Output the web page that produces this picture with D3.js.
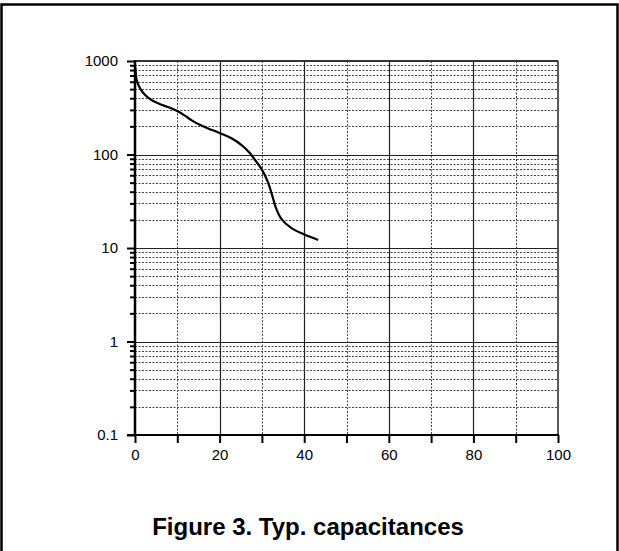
<!DOCTYPE html>
<html><head><meta charset="utf-8">
<script src="https://cdn.jsdelivr.net/npm/d3@7"></script>
<style>
html,body{margin:0;padding:0;background:#fff;}
svg{display:block;}
text{font-family:"Liberation Sans",Arial,sans-serif;}
</style></head>
<body>
<svg id="chart" width="619" height="551"></svg>
<script>
// Data
const voltage = [0.1,0.4,1.2,2.4,3.9,6.3,8.7,10.2,11.8,13.4,15.3,17.3,20.1,22.8,25.2,27.2,28.4,30.0,31.4,32.4,33.3,34.6,37.0,39.8,43.3];
const capacitance = [850,627,510,433,383,340,310,288,260,232,208,190,169,149,126,103,87,69,51,37,27,20.5,16.3,14.1,12.2];
const xTicks = [0,20,40,60,80,100];
const xMinorTicks = [10,30,50,70,90];
const yTicks = [0.1,1,10,100,1000];
const yTickLabels = ["0.1","1","10","100","1000"];
const title = "Figure 3. Typ. capacitances";

const svg = d3.select("#chart");
const L = 135, R = 558, T = 61, B = 435;
const x = d3.scaleLinear().domain([0,100]).range([L,R]);
const y = d3.scaleLog().domain([0.1,1000]).range([B,T]);

// outer frame
svg.append("path").attr("d", `M1.5,560 V4.5 H617.5 V560`)
  .attr("fill","none").attr("stroke","#000").attr("stroke-width",2.5);

// minor y values
const yMinor = [];
for (let d = 0.1; d < 1000; d *= 10) for (let k = 2; k <= 9; k++) yMinor.push(+(d*k).toPrecision(3));

const g = svg.append("g");
g.selectAll(".hm").data(yMinor).join("line")
  .attr("x1",L).attr("x2",R).attr("y1",d=>Math.round(y(d))+0.5).attr("y2",d=>Math.round(y(d))+0.5)
  .attr("stroke","#444").attr("stroke-width",1).attr("stroke-dasharray","2,1.5");
g.selectAll(".vm").data(xMinorTicks).join("line")
  .attr("y1",T).attr("y2",B).attr("x1",d=>Math.round(x(d))+0.5).attr("x2",d=>Math.round(x(d))+0.5)
  .attr("stroke","#444").attr("stroke-width",1).attr("stroke-dasharray","2,1.5");
g.selectAll(".hM").data(yTicks.slice(1,4)).join("line")
  .attr("x1",L).attr("x2",R).attr("y1",d=>Math.round(y(d))+0.5).attr("y2",d=>Math.round(y(d))+0.5)
  .attr("stroke","#222").attr("stroke-width",1.2);
g.selectAll(".vM").data(xTicks.slice(1,5)).join("line")
  .attr("y1",T).attr("y2",B).attr("x1",d=>Math.round(x(d))+0.5).attr("x2",d=>Math.round(x(d))+0.5)
  .attr("stroke","#222").attr("stroke-width",1.2);
g.append("line").attr("x1",L).attr("x2",R).attr("y1",T).attr("y2",T).attr("stroke","#333").attr("stroke-width",2);
g.append("line").attr("x1",R).attr("x2",R).attr("y1",T).attr("y2",B).attr("stroke","#222").attr("stroke-width",1.5);

// Axes
const yAxis = d3.axisLeft(y).tickValues(yTicks).tickFormat((d,i)=>yTickLabels[i]).tickSize(8).tickPadding(9);
const ya = svg.append("g").attr("transform",`translate(${L},0)`).call(yAxis);
const yMinAxis = d3.axisLeft(y).tickValues(yMinor).tickFormat("").tickSize(5);
const ym = svg.append("g").attr("transform",`translate(${L},0)`).call(yMinAxis);
const xAxis = d3.axisBottom(x).tickValues(xTicks.concat(xMinorTicks)).tickFormat(d=> xTicks.includes(d)? d : "").tickSize(8).tickPadding(6);
const xa = svg.append("g").attr("transform",`translate(0,${B})`).call(xAxis);

[ya,ym,xa].forEach(a=>{
  a.select(".domain").remove();
  a.selectAll(".tick line").attr("stroke","#000").attr("stroke-width",2);
  a.selectAll("text").attr("font-size",15).attr("fill","#000").attr("font-family","'Liberation Sans',Arial,sans-serif");
});
svg.append("line").attr("x1",L).attr("x2",L).attr("y1",T-1).attr("y2",B+1).attr("stroke","#000").attr("stroke-width",2.5);
svg.append("line").attr("x1",L-8).attr("x2",R+1).attr("y1",B).attr("y2",B).attr("stroke","#000").attr("stroke-width",2);

// curve
const pts = voltage.map((v,i)=>[v,capacitance[i]]);
svg.append("path").datum(pts)
  .attr("fill","none").attr("stroke","#000").attr("stroke-width",2.2)
  .attr("d", d3.line().x(d=>x(d[0])).y(d=>y(d[1])).curve(d3.curveCatmullRom.alpha(0.5)));

// title
svg.append("text").attr("x",308).attr("y",535).attr("text-anchor","middle")
  .attr("font-size",24).attr("font-weight","bold").attr("fill","#000").text(title);
</script>
</body></html>
